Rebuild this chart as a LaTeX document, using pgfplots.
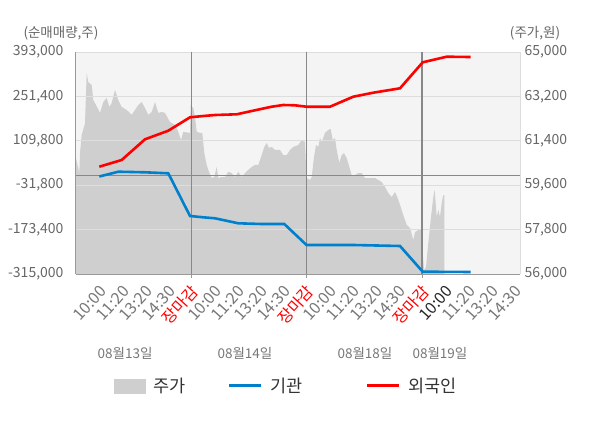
\documentclass[border=0pt]{standalone}
\usepackage{pgfplots}
\pgfplotsset{compat=1.18}
\usepackage{fontspec}
\setmainfont{Noto Sans CJK KR}
\definecolor{tickgray}{HTML}{666666}
\definecolor{labgray}{HTML}{777777}
\definecolor{bggray}{HTML}{F4F4F4}
\definecolor{areagray}{HTML}{CFCFCF}
\definecolor{gridgray}{HTML}{DDDDDD}
\definecolor{darkgrid}{HTML}{888888}
\definecolor{axgray}{HTML}{999999}
\definecolor{lineblue}{HTML}{0080CC}
\definecolor{linered}{HTML}{FF0000}
\definecolor{legtext}{HTML}{333333}
\begin{document}
\begin{tikzpicture}
\useasboundingbox (-76bp,-154bp) rectangle (524bp,274bp);
% price axis (right)
\begin{axis}[
  scale only axis, width=444bp, height=222bp,
  xmin=0, xmax=444, ymin=56000, ymax=65000,
  hide x axis,
  axis y line*=right,
  axis line style={-, gridgray, line width=0.8bp},
  axis background/.style={fill=bggray},
  ytick={56000,57800,59600,61400,63200,65000},
  yticklabels={{56,000},{57,800},{59,600},{61,400},{63,200},{65,000}},
  scaled y ticks=false,
  major tick length=0,
  yticklabel style={font=\fontsize{14bp}{16bp}\selectfont, text=tickgray, xshift=1bp},
  /pgf/number format/assume math mode=true,
  clip=true,
]
\addplot[fill=areagray, draw=none] coordinates {
(0,60690)(2.3,60300)(3.3,60090)(4,60900)(5.7,61640)(8,61960)(9,62120)(10.7,64150)(12.3,63780)(15.7,63660)(17.3,63050)(20,62850)(24,62530)(27.3,62970)(30.7,63140)(33.3,62770)(35.7,62930)(39,63460)(42.3,63050)(45.7,62770)(50.7,62650)(55.7,62450)(59,62650)(62.3,62850)(65.7,62970)(69,62730)(72.3,62450)(75.7,62570)(79,62970)(82.3,62530)(85.7,62570)(89,62530)(94,62160)(99,62040)(102.3,61760)(105,61430)(107.3,61760)(114,61720)
(114.7,62850)(117.3,62730)(119,62360)(120.7,61760)(124,61720)(126.3,61720)(128.3,60900)(130.7,60420)(133,60140)(135.7,59890)(138.3,59930)(140.7,60340)(142.3,59890)(145.7,59930)(149,59930)(152.3,60140)(155.7,60090)(159,59930)(162.3,60140)(165.7,59930)(169,60090)(172.3,60220)(175.7,60340)(179,60420)(182.3,60420)(185.7,60820)(188.3,61150)(190.7,61310)(193,61110)(195.7,61150)(199,61030)(204,61030)(207.3,60820)(210.7,60820)(214,61030)(217.3,61150)(222.3,61230)(225.7,61430)(229,61350)
(230.5,59890)(234,59810)(235.7,59930)(238,60740)(240,61230)(242.3,61150)(244,61510)(245.7,61350)(249,61720)(252.3,61840)(254.7,61880)(256.7,61430)(259,61510)(260.7,61030)(263.3,60500)(265.7,60820)(268,60900)(270.7,60700)(273.3,60340)(275.7,60010)(279,60010)(282.3,60090)(285.7,60090)(289,59890)(295.7,59890)(299,59890)(302.3,59810)(305.7,59730)(309,59530)(312.3,59280)(315.7,59120)(319,59320)(321.3,59120)(324,58800)(327.3,58390)(330.7,57990)(334,57860)(337.3,57380)(339,57700)(342.3,57780)(345.7,57780)
(346.7,56850)(348,56160)(350,56280)(352.3,57260)(354.7,58190)(357.3,59120)(358.7,59410)(360.7,58310)(362.3,58600)(364,58310)(365.7,58880)(367.3,59200)(368.3,59200)
} \closedcycle;
\end{axis}
% net buying axis (left)
\begin{axis}[
  scale only axis, width=444bp, height=222bp,
  xmin=0, xmax=444, ymin=-315000, ymax=393000,
  axis x line*=bottom, axis y line*=left,
  axis line style={-, axgray, line width=1bp},
  ytick={-315000,-173400,-31800,109800,251400,393000},
  yticklabels={{-315,000},{-173,400},{-31,800},{109,800},{251,400},{393,000}},
  scaled y ticks=false, scaled x ticks=false,
  ymajorgrids, major grid style={gridgray, line width=0.8bp},
  major tick length=0,
  yticklabel style={font=\fontsize{14bp}{16bp}\selectfont, text=tickgray, xshift=-9bp},
  xtick={23.07,46.13,69.2,92.27,115.33,138.4,161.47,184.53,207.6,230.67,253.73,276.8,299.87,322.93,346,369.07,392.13,415.2,438.27},
  xticklabels={10:00,11:20,13:20,14:30,\textcolor{linered}{장마감},10:00,11:20,13:20,14:30,\textcolor{linered}{장마감},10:00,11:20,13:20,14:30,\textcolor{linered}{장마감},\textcolor{black!85}{10:00},11:20,13:20,14:30},
  xticklabel style={font=\fontsize{16bp}{18bp}\selectfont, text=labgray, xshift=6bp, yshift=-11.6bp, rotate=48, anchor=east},
  extra x ticks={115.33,230.67,346},
  extra x tick labels={},
  extra x tick style={xmajorgrids=true, major grid style={darkgrid, line width=1.2bp}, major tick length=4bp, tick align=outside, tick style={draw=axgray, line width=1bp}},
  extra y ticks={0},
  extra y tick labels={},
  extra y tick style={ymajorgrids=true, major grid style={darkgrid, line width=1bp}},
  /pgf/number format/assume math mode=true,
  legend columns=3,
  legend style={at={(axis description cs:0.0863,-0.5045)}, anchor=west, draw=none, fill=none,
    inner sep=0pt, outer sep=0pt,
    font=\fontsize{17.5bp}{20bp}\selectfont, text=legtext,
    /tikz/every odd column/.append style={column sep=6bp}},
  clip=false,
]
\addlegendimage{legend image code/.code={\fill[areagray] (0bp,-7bp) rectangle (31bp,7bp);}}
\addlegendentry{주가\hspace*{40bp}}
\addplot[lineblue, line width=2.6bp, forget plot] coordinates {
(23.3,-4000)(42.3,11250)(69,9340)(92.3,6150)(114,-130030)(127.3,-134180)(139,-137360)(162.3,-153310)(185.7,-155540)(208.3,-155540)(230.5,-222520)(277.3,-222520)(324,-225700)(346.7,-307670)(394.7,-308600)
};
\addlegendimage{legend image code/.code={\draw[lineblue, line width=3bp] (0bp,0bp) -- (32bp,0bp);}}
\addlegendentry{기관\hspace*{60bp}}
\addplot[linered, line width=2.6bp, forget plot] coordinates {
(23.3,27200)(45.7,48570)(69,114580)(92.3,142010)(114,184750)(127.3,188890)(139,192080)(160.7,194310)(175.7,204840)(195.7,218550)(207.3,223970)(219,223020)(230.5,218550)(254,218550)(277.3,250440)(297.3,263200)(324,277230)(346.7,360150)(370.7,378010)(394.7,377000)
};
\addlegendimage{legend image code/.code={\draw[linered, line width=3bp] (0bp,0bp) -- (32bp,0bp);}}
\addlegendentry{외국인}
\node[font=\fontsize{13.5bp}{16bp}\selectfont, text=tickgray] at (axis description cs:-0.0338,1.0856) {(순매매량,주)};
\node[font=\fontsize{13.5bp}{16bp}\selectfont, text=tickgray] at (axis description cs:1.0338,1.0856) {(주가,원)};
\node[font=\fontsize{13.5bp}{16bp}\selectfont, text=labgray] at (axis description cs:0.1104,-0.3559) {08월13일};
\node[font=\fontsize{13.5bp}{16bp}\selectfont, text=labgray] at (axis description cs:0.3806,-0.3559) {08월14일};
\node[font=\fontsize{13.5bp}{16bp}\selectfont, text=labgray] at (axis description cs:0.6509,-0.3559) {08월18일};
\node[font=\fontsize{13.5bp}{16bp}\selectfont, text=labgray] at (axis description cs:0.8198,-0.3559) {08월19일};
\end{axis}
\end{tikzpicture}
\end{document}
